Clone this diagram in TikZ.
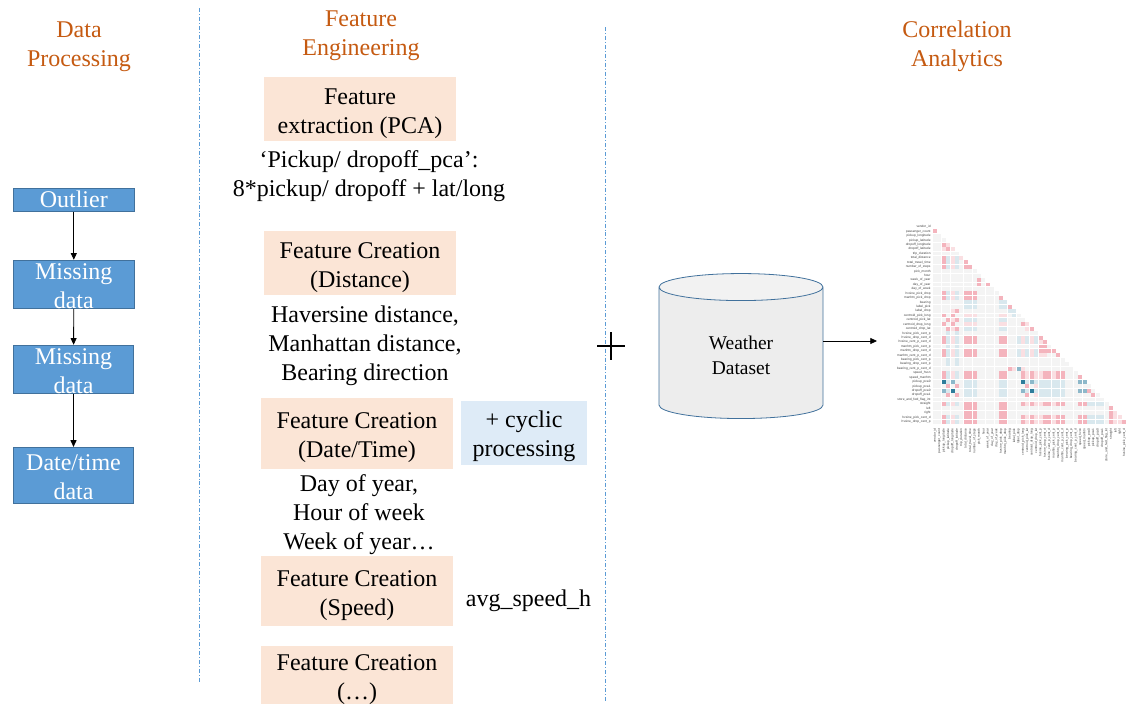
\documentclass[tikz,border=0pt]{standalone}
\usepackage{fontspec}
\setmainfont{Liberation Serif}
\newfontfamily\hmfont{Liberation Sans}
\usetikzlibrary{arrows.meta,shapes.geometric}
\definecolor{headorange}{HTML}{C55A11}
\definecolor{boxblue}{HTML}{5B9BD5}
\definecolor{boxedge}{HTML}{41719C}
\definecolor{featfill}{HTML}{FBE5D6}
\definecolor{cycfill}{HTML}{DEEBF7}
\definecolor{hmgray}{HTML}{F4F4F4}
\definecolor{hmpink}{HTML}{F4B4BD}
\definecolor{hmlpink}{HTML}{FADFE2}
\definecolor{hmlblue}{HTML}{D9E8EE}
\definecolor{hmblue}{HTML}{8DB8CA}
\definecolor{hmdark}{HTML}{2E7C9B}
\newcommand{\hmcell}[3]{\fill[#3] (#1-.44,#2-.44) rectangle ++(.88,.88);}
\tikzset{
  big/.style={font=\fontsize{18}{21.75}\selectfont,align=center,inner sep=0},
  head/.style={big,text=headorange},
  proc/.style={big,draw=boxedge,fill=boxblue,text=white,line width=.6pt,minimum width=90.3pt,text height=36.2pt,text depth=0pt},
  feat/.style={big,fill=featfill,minimum width=144pt,text height=37pt,text depth=0pt},
  flow/.style={-{Triangle[length=5pt,width=4.5pt]},line width=.6pt},
  sep/.style={boxblue,line width=.5pt,dash pattern=on 3pt off 1.5pt on .7pt off 1.5pt},
  hmlab/.style={font=\hmfont\fontsize{2.4}{3}\selectfont,text=black!75,inner sep=0}
}
\begin{document}
\begin{tikzpicture}[x=.75pt,y=-.75pt]
  \useasboundingbox (0,0) rectangle (1140,721);

  % headings
  \node[head](headdata) at (79,46.5){Data\\Processing};
  \node[head](headfeat) at (361,36){Feature\\Engineering};
  \node[head](headcorr) at (957,46.5){Correlation\\Analytics};

  \coordinate (septopa) at (199.3,8);
  \coordinate (sepbota) at (199.3,684);
  \coordinate (septopb) at (605.3,27);
  \coordinate (sepbotb) at (605.3,703);
  \draw[sep] (septopa) -- (sepbota);
  \draw[sep] (septopb) -- (sepbotb);

  % data processing
  \node[proc,text height=12pt,minimum height=17.25pt](outlier) at (73.8,199.8){Outlier};
  \node[proc,minimum height=36pt](missa) at (73.8,284.3){Missing\\data};
  \node[proc,minimum height=36pt](missb) at (73.5,369.3){Missing\\data};
  \node[proc,minimum height=42pt](datetime) at (73.5,475.3){Date/time\\data};
  \draw[flow] (outlier) -- (missa);
  \draw[flow] (missa) -- (missb);
  \draw[flow] (missb) -- (datetime);

  % feature engineering
  \node[feat,minimum height=48pt](extract) at (360,109){Feature\\extraction (PCA)};
  \node[big](extracttxt) at (369,176.5){‘Pickup/ dropoff\_pca’:\\8*pickup/ dropoff + lat/long};
  \node[feat,minimum height=48pt](distance) at (360,263){Feature Creation\\(Distance)};
  \node[big](distancetxt) at (365,346){Haversine distance,\\Manhattan distance,\\Bearing direction};
  \node[feat,minimum height=53pt](datefeat) at (357,433.3){Feature Creation\\(Date/Time)};
  \node[big,fill=cycfill,minimum width=94.5pt,minimum height=48pt,text height=35.5pt,text depth=0pt](cyclic) at (524,433){+ cyclic\\processing};
  \node[big](datetxt) at (359,515){Day of year,\\Hour of week\\Week of year…};
  \node[feat,minimum height=52.5pt](speed) at (357,591){Feature Creation\\(Speed)};
  \node[big](speedtxt) at (528.5,601){avg\_speed\_h};
  \node[feat,minimum height=43.5pt](more) at (357,675){Feature Creation\\(…)};

  % plus sign
  \coordinate (plusl) at (597,346);
  \coordinate (plusr) at (625,346);
  \coordinate (plust) at (611,332);
  \coordinate (plusb) at (611,360);
  \draw[line width=1.1pt] (plusl) -- (plusr);
  \draw[line width=1.1pt] (plust) -- (plusb);

  % weather
  \node[cylinder,shape border rotate=90,aspect=.42,draw=boxedge,line width=.6pt,
    cylinder uses custom fill,cylinder body fill=black!7,cylinder end fill=black!5,
    minimum width=123pt,minimum height=108.75pt,inner sep=0,align=center,text height=31.6pt,text depth=0pt,
    font=\fontsize{14.6}{18.75}\selectfont](weather) at (741,353){Weather\\Dataset};
  \coordinate (heatin) at (877,341);
  \draw[flow] (heatin -| weather.east) -- (heatin);

  % heat map
  \begin{scope}[shift={(935,227)},x=3.3pt,y=-3.318pt]
    \foreach \r in {1,...,44}{
      \pgfmathtruncatemacro{\last}{\r-1}
      \foreach \c in {0,...,\last}{\hmcell{\c}{\r}{hmgray}}
    }
    \foreach \lab [count=\n from 0] in {vendor\_id,passenger\_count,pickup\_longitude,pickup\_latitude,
      dropoff\_longitude,dropoff\_latitude,trip\_duration,total\_distance,total\_travel\_time,number\_of\_steps,
      pick\_month,hour,week\_of\_year,day\_of\_year,day\_of\_week,hvsine\_pick\_drop,manhtn\_pick\_drop,bearing,
      label\_pick,label\_drop,centroid\_pick\_long,centroid\_pick\_lat,centroid\_drop\_long,centroid\_drop\_lat,
      hvsine\_pick\_cent\_p,hvsine\_drop\_cent\_d,hvsine\_cent\_p\_cent\_d,manhtn\_pick\_cent\_p,manhtn\_drop\_cent\_d,
      manhtn\_cent\_p\_cent\_d,bearing\_pick\_cent\_p,bearing\_drop\_cent\_p,bearing\_cent\_p\_cent\_d,speed\_hvsn,
      speed\_manhtn,pickup\_pca0,pickup\_pca1,dropoff\_pca0,dropoff\_pca1,store\_and\_fwd\_flag\_int,straight,left,right,
      hvsine\_pick\_cent\_d,hvsine\_drop\_cent\_p}{
      \node[hmlab,anchor=east](rowlab\n) at (-.95,\n){\lab};
      \ifnum\n<44
        \node[hmlab,anchor=east,rotate=90](collab\n) at (\n,45.5){\lab};
      \fi
    }
    % upper rows
    \hmcell{0}{1}{hmpink}
    \hmcell{2}{4}{hmpink}\hmcell{3}{4}{hmlpink}
    \hmcell{2}{5}{hmlpink}\hmcell{3}{5}{hmpink}\hmcell{4}{5}{hmlpink}
    \foreach \r in {7,8,9,15,16,43,44}{
      \hmcell{2}{\r}{hmpink}\hmcell{3}{\r}{hmlblue}\hmcell{4}{\r}{hmlpink}\hmcell{5}{\r}{hmlblue}
    }
    \hmcell{6}{7}{hmlpink}\hmcell{7}{8}{hmpink}\hmcell{7}{9}{hmpink}\hmcell{8}{9}{hmpink}
    \hmcell{10}{12}{hmpink}\hmcell{10}{13}{hmpink}\hmcell{12}{13}{hmpink}
    % distance groups
    \foreach \r in {15,16,25,26,28,29,33,34,40,41,42,43,44}{
      \foreach \c in {7,8,9}{\hmcell{\c}{\r}{hmpink}}
    }
    \foreach \r in {25,26,28,29,33,34,40,41,42,43,44}{
      \foreach \c in {15,16}{\hmcell{\c}{\r}{hmpink}}
    }
    \hmcell{15}{16}{hmpink}
    \foreach \r in {25,26,28,29,33,34,40}{
      \hmcell{2}{\r}{hmpink}\hmcell{3}{\r}{hmlblue}\hmcell{4}{\r}{hmlpink}\hmcell{5}{\r}{hmlblue}
    }
    \foreach \r in {33,34,40,43,44}{
      \foreach \c in {20,22,25,26,28,29}{\hmcell{\c}{\r}{hmpink}}
      \foreach \c in {21,23,24,27}{\hmcell{\c}{\r}{hmlpink}}
    }
    \foreach \r in {25,26,28,29}{
      \foreach \c in {20,22}{\hmcell{\c}{\r}{hmlpink}}
      \foreach \c in {19,21,23}{\hmcell{\c}{\r}{hmlblue}}
    }
    \foreach \r in {24,27,30,31}{
      \foreach \c in {3,5}{\hmcell{\c}{\r}{hmlblue}}
    }
    % clusters
    \foreach \r in {17,18,21,23}{
      \foreach \c in {7,8,9}{\hmcell{\c}{\r}{hmlblue}}
      \foreach \c in {15,16}{\hmcell{\c}{\r}{hmlblue}}
    }
    \foreach \r in {20,22}{
      \foreach \c in {7,8,9,15,16}{\hmcell{\c}{\r}{hmlpink}}
      \hmcell{2}{\r}{hmpink}\hmcell{4}{\r}{hmpink}
    }
    \foreach \r in {21,23}{
      \hmcell{3}{\r}{hmpink}\hmcell{5}{\r}{hmpink}\hmcell{4}{\r}{hmlpink}
    }
    \hmcell{17}{18}{hmpink}\hmcell{17}{19}{hmlblue}\hmcell{18}{19}{hmlblue}\hmcell{5}{19}{hmpink}
    \hmcell{4}{19}{hmlpink}\hmcell{18}{20}{hmlblue}
    \hmcell{20}{22}{hmpink}\hmcell{21}{22}{hmlpink}\hmcell{21}{23}{hmlpink}\hmcell{22}{23}{hmpink}
    \hmcell{24}{25}{hmpink}\hmcell{25}{26}{hmpink}\hmcell{24}{26}{hmlpink}
    \hmcell{24}{27}{hmpink}\hmcell{25}{27}{hmpink}
    \foreach \c in {24,25,26,27}{\hmcell{\c}{28}{hmpink}}
    \hmcell{24}{29}{hmlpink}\hmcell{25}{29}{hmlpink}\hmcell{28}{29}{hmpink}
    \hmcell{17}{32}{hmpink}\hmcell{18}{32}{hmlpink}\hmcell{19}{32}{hmblue}\hmcell{20}{32}{hmlpink}
    % pca rows
    \foreach \r in {35,36,37,38}{
      \foreach \c in {7,8,9,15,16,21,23,24,25,26,27,28,29}{\hmcell{\c}{\r}{hmlblue}}
    }
    \foreach \r in {35,37}{
      \hmcell{2}{\r}{hmdark}\hmcell{4}{\r}{hmblue}\hmcell{3}{\r}{hmlblue}
      \hmcell{33}{\r}{hmblue}\hmcell{34}{\r}{hmblue}
      \hmcell{20}{\r}{hmdark}\hmcell{22}{\r}{hmblue}
    }
    \hmcell{4}{37}{hmdark}\hmcell{22}{37}{hmdark}\hmcell{2}{37}{hmblue}\hmcell{20}{37}{hmblue}
    \foreach \r in {36,38}{
      \hmcell{3}{\r}{hmpink}\hmcell{5}{\r}{hmpink}\hmcell{21}{\r}{hmpink}\hmcell{23}{\r}{hmlpink}
    }
    \hmcell{33}{34}{hmpink}\hmcell{35}{37}{hmpink}\hmcell{36}{38}{hmpink}
    % last rows
    \foreach \r in {40,43,44}{
      \foreach \c in {33,34}{\hmcell{\c}{\r}{hmpink}}
      \foreach \c in {35,36,37,38}{\hmcell{\c}{\r}{hmlblue}}
    }
    \hmcell{40}{41}{hmpink}\hmcell{40}{42}{hmpink}\hmcell{41}{42}{hmlpink}
    \foreach \r in {43,44}{\foreach \c in {40,41,42}{\hmcell{\c}{\r}{hmlpink}}}
    \hmcell{40}{43}{hmpink}\hmcell{43}{44}{hmpink}\hmcell{40}{44}{hmpink}
  \end{scope}
\end{tikzpicture}
\end{document}
